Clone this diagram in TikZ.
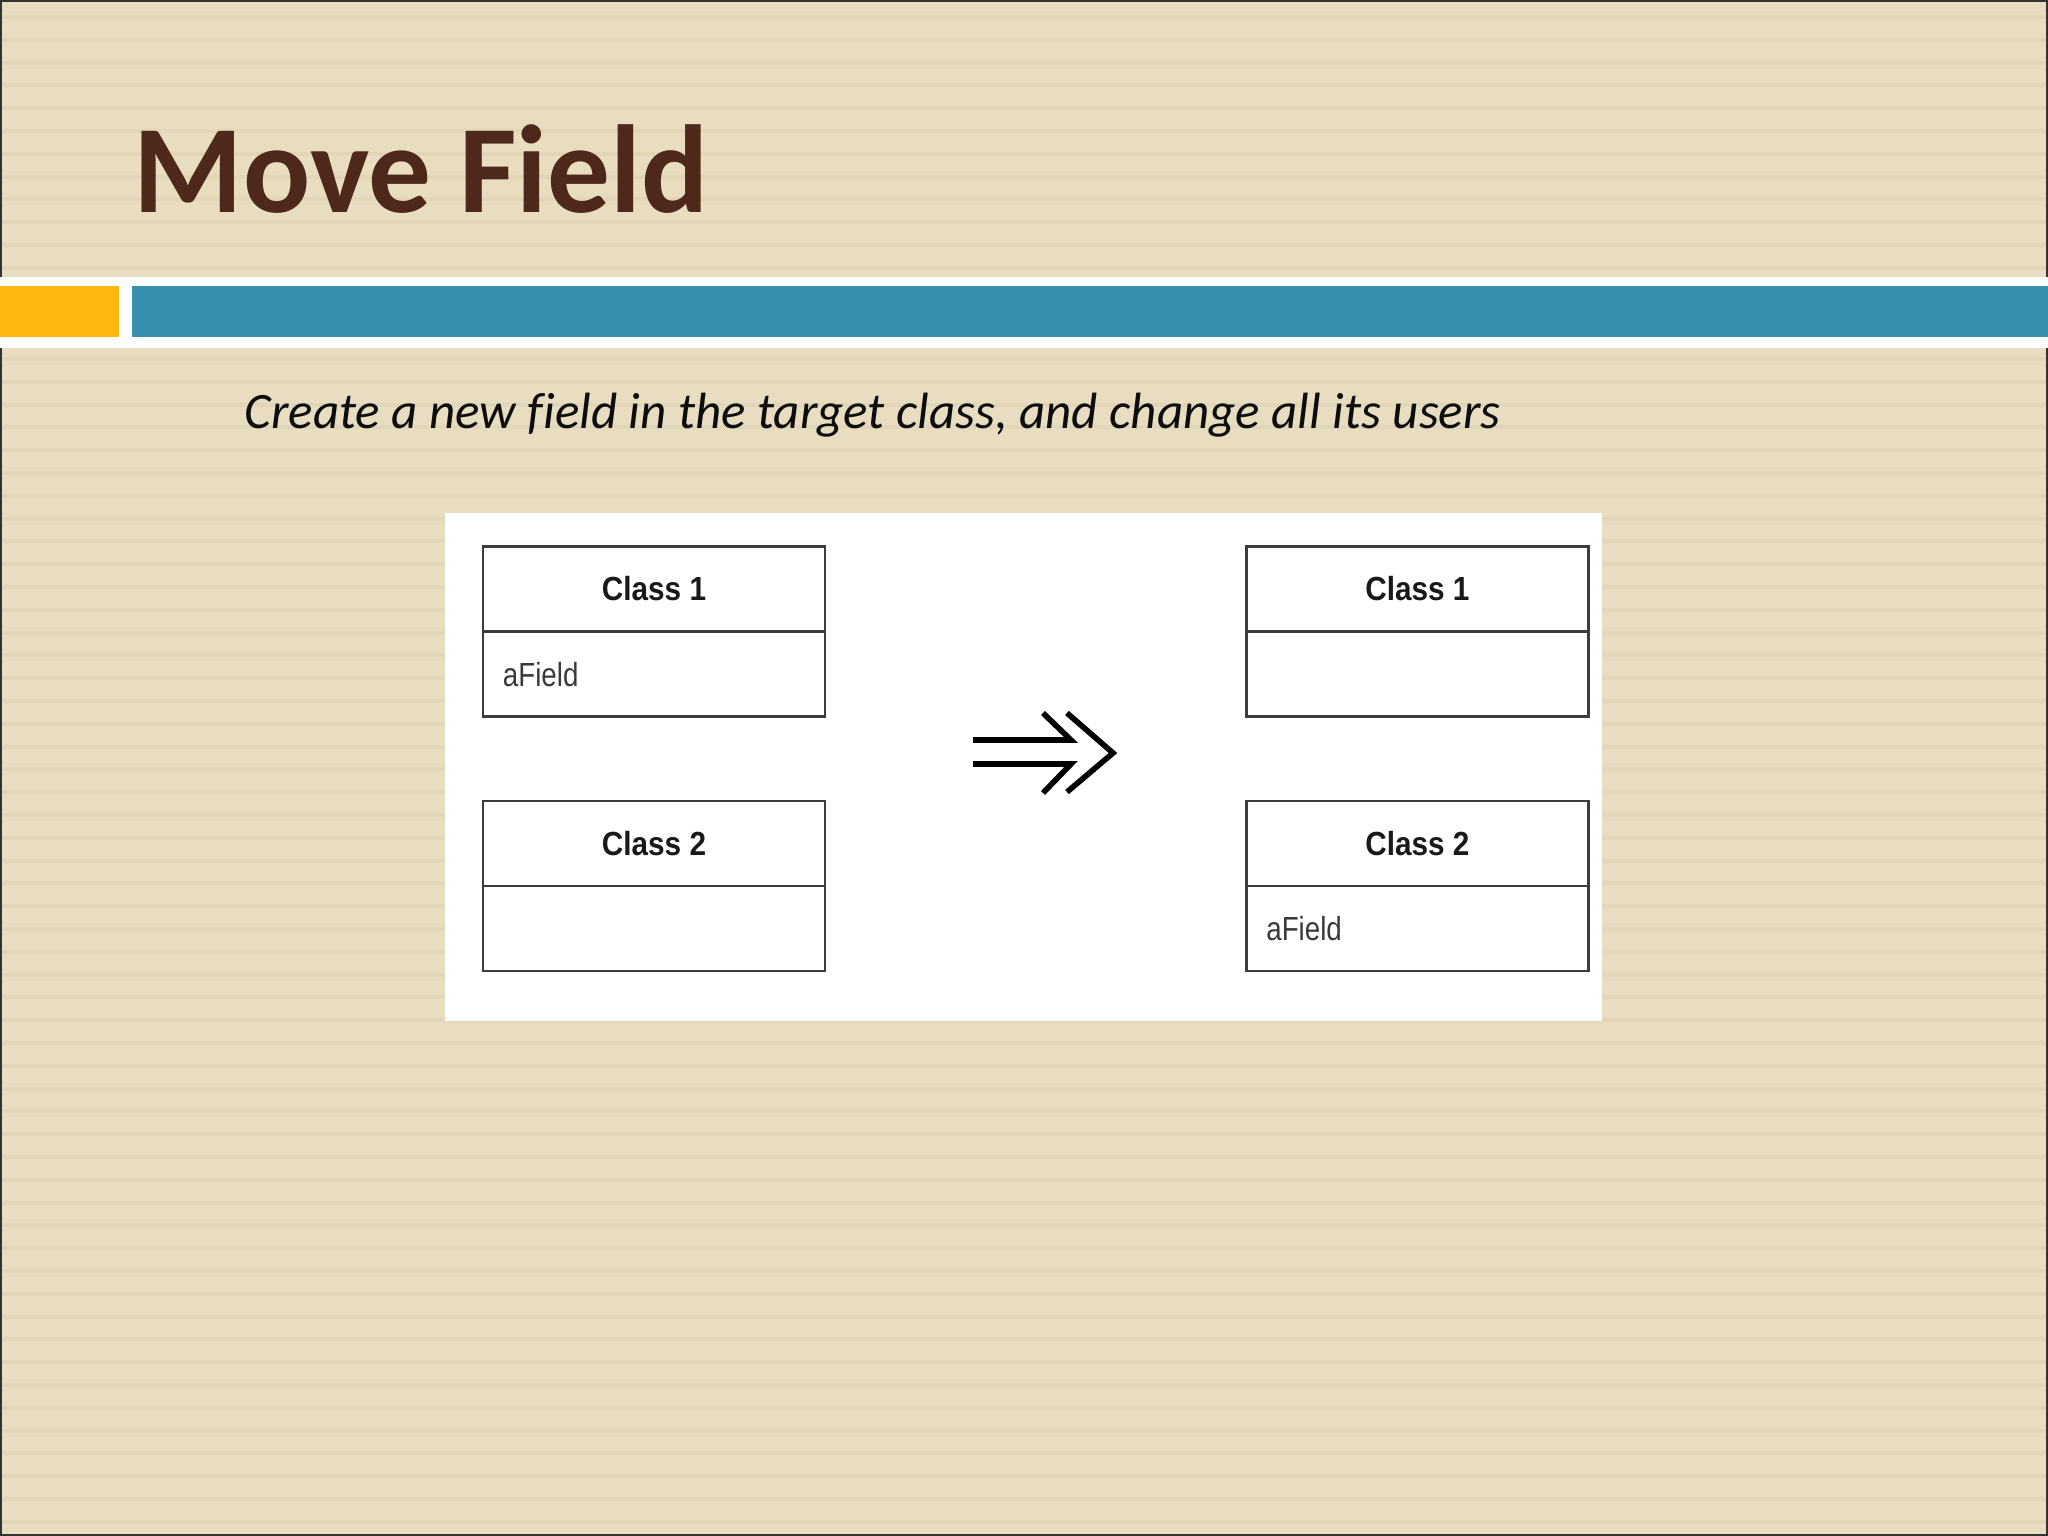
\documentclass[tikz,border=0pt]{standalone}
\usepackage{fontspec}
\setmainfont{Carlito}[Ligatures=NoCommon]
\newfontfamily\classfont[FakeStretch=0.89]{Liberation Sans}
\newfontfamily\fieldfont[FakeStretch=0.83]{Liberation Sans}
\usetikzlibrary{positioning}
\definecolor{slidebg}{RGB}{233,221,193}
\definecolor{slidestripe}{RGB}{227,213,183}
\definecolor{titlebrown}{RGB}{78,40,27}
\definecolor{barorange}{RGB}{255,183,18}
\definecolor{barteal}{RGB}{56,145,172}
\definecolor{boxline}{RGB}{60,60,60}
\definecolor{fieldgray}{RGB}{58,58,58}
\tikzset{%
    classhead/.style={%
        draw=boxline, line width=0.65pt, fill=white,
        minimum width=3.42cm, minimum height=0.85cm,
        inner sep=0pt, outer sep=0pt, text=black!90,
        font=\classfont\bfseries\fontsize{9.5}{11}\selectfont
    },
    classbody/.style={%
        classhead, text width=3.02cm, inner xsep=0.2cm, align=left,
        text=fieldgray, font=\fieldfont\fontsize{9.5}{11}\selectfont
    },
    refactor/.style={line width=1.6pt, line join=miter}
}

\begin{document}
\begin{tikzpicture}[x=0.01cm, y=-0.01cm]
    \useasboundingbox (0,0) rectangle (2048,1536);
    \fill[slidebg] (0,0) rectangle (2048,1536);
    \foreach \y in {17,39.8,...,1536}
        \draw[slidestripe, line width=0.04cm] (0,\y) -- (2048,\y);
    \draw[black!80, line width=0.02cm] (1,1) rectangle (2047,1535);
    % title bar
    \fill[white] (0,277) rectangle (2048,348);
    \fill[barorange] (0,286) rectangle (119,337);
    \fill[barteal] (132,286) rectangle (2048,337);
    \node[anchor=base west, inner sep=0pt, text=titlebrown,
        font=\bfseries\fontsize{35.6}{40}\selectfont] (title) at (133,212) {Move Field};
    \node[anchor=base west, inner sep=0pt, text=black!95,
        font=\itshape\fontsize{14.5}{17}\selectfont] (subtitle) at (244,428)
        {Create a new field in the target class, and change all its users};
    % before / after
    \fill[white] (445,513) rectangle (1602,1021);
    \node[classhead] (c1L) at (654,589) {Class 1};
    \node[classbody, below=0pt of c1L] (c1Lbody) {aField};
    \node[classhead, below=0.845cm of c1Lbody] (c2L) {Class 2};
    \node[classbody, below=0pt of c2L] (c2Lbody) {};
    \node[classhead, right=4.21cm of c1L] (c1R) {Class 1};
    \node[classbody, below=0pt of c1R] (c1Rbody) {};
    \node[classhead, below=0.845cm of c1Rbody] (c2R) {Class 2};
    \node[classbody, below=0pt of c2R] (c2Rbody) {aField};
    \draw[refactor] (1043,713) -- (1071,740) -- (973,740);
    \draw[refactor] (1043,793) -- (1071,764) -- (973,764);
    \draw[refactor] (1067,713) -- (1113,753) -- (1067,792);
\end{tikzpicture}
\end{document}
